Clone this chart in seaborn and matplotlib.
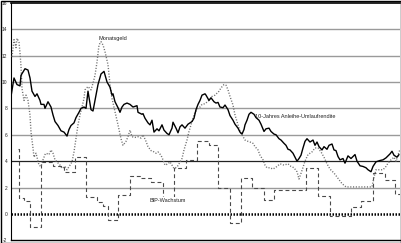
import matplotlib
matplotlib.use("Agg")
import matplotlib.pyplot as plt
import seaborn as sns
import pandas as pd
from matplotlib.patches import Rectangle

# ---- data (month index since start of series) ----
bond_month = [0, 3, 6, 9, 10, 14, 17, 19, 21, 24, 26, 29, 30, 33, 34, 37, 40, 42, 44, 47,
              50, 53, 56, 58, 60, 63, 65, 68, 70, 73, 75, 77, 79, 80, 82, 84, 87, 90, 93, 96,
              99, 101, 102, 104, 107, 109, 111, 113, 116, 119, 122, 126, 127, 131, 132, 134, 137, 139, 141, 143,
              146, 148, 151, 153, 156, 158, 161, 162, 165, 167, 169, 171, 174, 177, 179, 181, 183, 185, 187, 189,
              191, 194, 195, 198, 200, 203, 205, 207, 209, 212, 214, 217, 219, 222, 224, 227, 229, 231, 233, 234,
              236, 238, 240, 243, 245, 248, 250, 253, 255, 258, 260, 263, 265, 268, 270, 273, 275, 277, 279, 282,
              284, 286, 288, 290, 292, 294, 296, 299, 302, 304, 306, 308, 311, 313, 316, 318, 321, 323, 325, 327,
              329, 332, 334, 337, 340, 344, 346, 349, 352, 355, 357, 360, 362, 365, 369, 372, 375, 379, 381, 383,
              386, 388]
bond_yield = [8.9, 10.3, 9.8, 9.7, 10.5, 11.0, 10.9, 10.3, 9.3, 8.9, 9.1, 8.6, 8.3, 8.3, 8.0, 8.5, 8.1, 7.5, 7.0, 6.7,
              6.3, 6.2, 5.9, 6.4, 6.7, 6.9, 7.3, 7.7, 8.0, 8.1, 8.0, 9.3, 8.4, 7.9, 7.8, 8.6, 9.8, 10.6, 10.8, 10.0,
              9.6, 9.0, 9.1, 8.5, 8.05, 7.7, 8.1, 8.3, 8.4, 8.3, 8.1, 8.2, 7.7, 7.55, 7.6, 7.25, 6.9, 6.75, 7.1, 6.2,
              6.45, 6.3, 6.75, 6.35, 6.1, 6.0, 6.5, 6.95, 6.5, 6.15, 6.6, 6.75, 6.5, 6.8, 6.9, 7.0, 7.25, 7.9, 8.3, 8.6,
              9.0, 9.1, 9.0, 8.6, 8.8, 8.5, 8.4, 8.45, 8.1, 8.05, 8.25, 7.9, 7.45, 7.1, 6.8, 6.5, 6.2, 6.05, 6.4, 6.75,
              7.1, 7.55, 7.7, 7.55, 7.3, 7.1, 6.8, 6.25, 6.45, 6.5, 6.25, 6.05, 6.0, 5.7, 5.6, 5.35, 5.2, 4.9, 4.85, 4.6,
              4.3, 4.0, 4.2, 4.45, 5.0, 5.5, 5.7, 5.45, 5.6, 5.2, 5.45, 5.1, 4.85, 5.1, 4.9, 5.2, 5.3, 4.85, 4.8, 4.35,
              4.1, 4.2, 3.85, 4.4, 4.2, 4.5, 4.0, 3.65, 3.6, 3.5, 3.35, 3.2, 3.6, 3.95, 4.05, 4.1, 4.25, 4.55, 4.75, 4.45,
              4.3, 4.5]

money_month = [1, 3, 5, 6, 8, 9, 10, 11, 13, 15, 17, 19, 20, 22, 23, 25, 28, 30, 32, 34,
               35, 38, 40, 42, 44, 46, 49, 51, 54, 56, 59, 61, 63, 65, 67, 69, 71, 73, 74, 77,
               80, 82, 84, 86, 88, 90, 92, 94, 97, 99, 101, 104, 107, 110, 112, 115, 117, 119, 121, 124,
               127, 130, 132, 135, 137, 140, 142, 145, 147, 150, 152, 154, 157, 159, 161, 163, 166, 168, 171, 173,
               176, 178, 180, 182, 184, 187, 189, 191, 194, 198, 201, 204, 208, 210, 213, 215, 217, 219, 222, 224,
               227, 229, 232, 234, 237, 239, 242, 244, 247, 249, 252, 254, 256, 259, 262, 266, 269, 273, 277, 280,
               283, 286, 288, 291, 294, 297, 301, 304, 307, 310, 313, 316, 319, 323, 327, 331, 335, 361, 363, 365,
               372, 375, 377, 380, 383, 385, 387, 389]
money_rate = [11.9, 13.2, 12.6, 13.3, 13.0, 12.2, 11.2, 9.5, 8.6, 9.0, 8.6, 7.5, 6.2, 5.0, 4.3, 4.6, 3.7, 3.6, 4.1, 4.5,
              4.6, 4.5, 4.85, 4.6, 4.1, 3.95, 3.7, 3.45, 3.6, 3.35, 3.7, 3.95, 4.7, 5.75, 6.75, 7.5, 8.1, 8.75, 9.4, 9.65,
              9.4, 9.9, 10.5, 11.5, 12.8, 13.05, 12.8, 12.3, 11.3, 9.8, 8.75, 7.75, 6.75, 5.7, 5.2, 5.5, 5.85, 6.35, 5.85, 5.8,
              5.85, 5.75, 6.0, 5.5, 5.1, 4.8, 4.75, 4.6, 4.7, 4.45, 4.1, 3.7, 3.8, 3.95, 3.7, 3.45, 3.55, 3.8, 4.2, 4.85,
              5.6, 6.25, 6.75, 7.25, 7.7, 8.0, 8.1, 8.3, 8.35, 8.6, 8.9, 9.0, 9.3, 9.55, 9.8, 9.75, 9.4, 8.9, 8.25, 7.5,
              6.75, 6.25, 5.85, 5.6, 5.5, 5.45, 5.35, 5.1, 4.85, 4.45, 4.1, 3.7, 3.5, 3.5, 3.4, 3.6, 3.8, 3.7, 3.8, 3.6,
              3.5, 3.2, 2.65, 3.3, 4.0, 4.5, 4.7, 5.0, 5.0, 4.7, 4.3, 3.8, 3.4, 3.1, 2.7, 2.3, 2.05, 2.05, 2.8, 3.35,
              3.35, 3.6, 3.85, 4.1, 4.3, 4.0, 4.45, 4.9]

gdp_month = [7, 8, 13, 19.5, 30, 42, 53.5, 64, 75, 86, 92, 97, 107, 119, 129, 140, 152, 163, 175, 186,
             198, 207.5, 219.5, 230.5, 241.5, 253, 263, 295, 307, 319, 340, 350, 362, 374, 384, 389]
gdp_growth = [4.9, 1.2, 1.0, -1.0, 3.9, 3.6, 3.2, 4.3, 1.3, 0.9, 0.6, -0.45, 1.45, 2.85, 2.7, 2.4, 1.2, 3.45, 4.1, 5.5,
              5.2, 1.95, -0.7, 2.75, 2.0, 1.05, 1.8, 3.5, 1.4, -0.15, 0.55, 0.95, 3.1, 2.6, 1.5, 1.5]

y_ticks = [-2, 0, 2, 4, 6, 8, 10, 12, 14, 16]
label_money = "Monatsgeld"
label_bond = "10-Jahres Anleihe-Umlaufrendite"
label_gdp = "BIP-Wachstum"

# ---- figure ----
sns.set_theme(style="white")
plt.rcParams["font.family"] = ["Liberation Sans", "DejaVu Sans"]

fig = plt.figure(figsize=(4.02, 2.43), dpi=100)
fig.patch.set_facecolor("white")
ax = fig.add_axes([11 / 402, 2.6 / 243, 389 / 402, 237.7 / 243])
ax.set_facecolor("white")

for v in y_ticks[2:-1]:
    if v == 4:
        ax.axhline(v, color="#222222", lw=0.9, zorder=1)
    else:
        ax.axhline(v, color="#9a9a9a", lw=1.0, zorder=1)
ax.axhline(0, color="black", lw=1.8, ls=(0, (0.6, 0.6)), zorder=1)

df_bond = pd.DataFrame({"m": bond_month, "v": bond_yield})
df_money = pd.DataFrame({"m": money_month, "v": money_rate})
df_gdp = pd.DataFrame({"m": gdp_month, "v": gdp_growth})

sns.lineplot(data=df_gdp, x="m", y="v", ax=ax, color="#4a4a4a", lw=0.8,
             linestyle=(0, (3.5, 2.5)), drawstyle="steps-post", estimator=None, sort=False, zorder=2)
sns.lineplot(data=df_money, x="m", y="v", ax=ax, color="#707070", lw=1.0,
             linestyle=(0, (0.8, 1.2)), estimator=None, sort=False, zorder=3)
sns.lineplot(data=df_bond, x="m", y="v", ax=ax, color="black", lw=1.0,
             estimator=None, sort=False, zorder=4)

ax.text(88, 13.3, label_money, fontsize=4, va="center", ha="left", color="#222222", zorder=5)
ax.text(244, 7.35, label_bond, fontsize=4, va="center", ha="left", color="#222222", zorder=5)
ax.text(139, 1.05, label_gdp, fontsize=4, va="center", ha="left", color="#222222", zorder=5,
        bbox=dict(facecolor="white", edgecolor="none", pad=0.6))

ax.set_xlim(0, 389)
ax.set_ylim(-2, 16)
ax.set_yticks(y_ticks)
ax.set_yticklabels([str(t) for t in y_ticks])
ax.set_xticks([])
ax.set_xlabel("")
ax.set_ylabel("")
ax.tick_params(axis="y", length=0, pad=2.5, labelsize=3.5, labelcolor="#222222")
for s in ["left", "top", "bottom"]:
    ax.spines[s].set_visible(True)
    ax.spines[s].set_color("black")
ax.spines["left"].set_linewidth(0.8)
ax.spines["top"].set_linewidth(1.2)
ax.spines["bottom"].set_linewidth(1.0)
ax.spines["right"].set_visible(False)

fig.patches.append(Rectangle((0.5 / 402, 0.5 / 243), 400.5 / 402, 241.5 / 243, transform=fig.transFigure,
                             fill=False, edgecolor="black", lw=1.0))

fig.savefig("out.png", dpi=100)
